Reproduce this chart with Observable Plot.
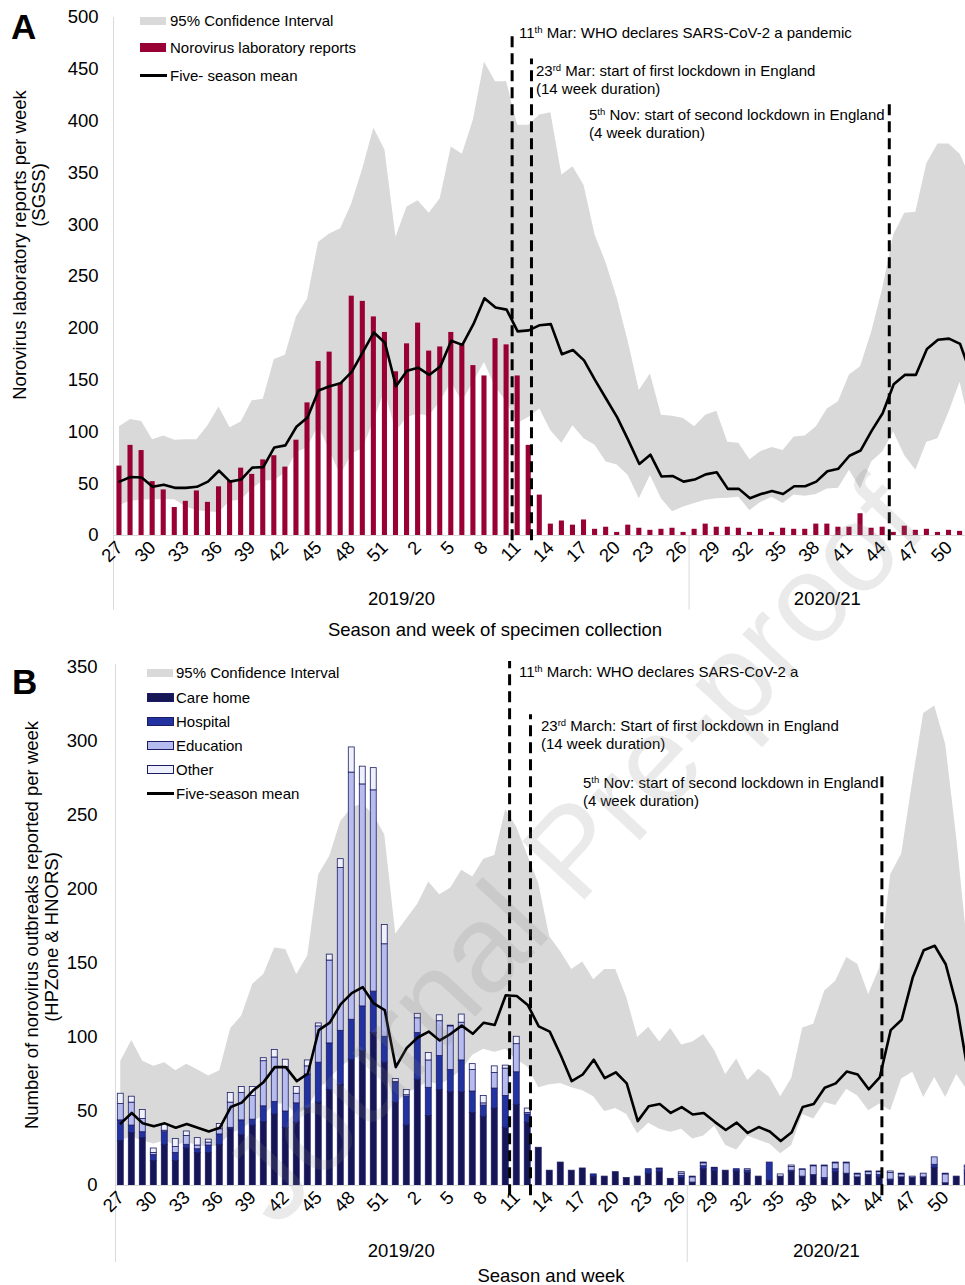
<!DOCTYPE html>
<html><head><meta charset="utf-8">
<script src="https://cdn.jsdelivr.net/npm/d3@7"></script>
<script src="https://cdn.jsdelivr.net/npm/@observablehq/plot@0.6"></script>
<style>
body{margin:0;background:#fff;}
#page{position:relative;width:965px;height:1285px;overflow:hidden;font-family:"Liberation Sans",Arial,sans-serif;color:#000;}
#panelA,#panelB{position:absolute;left:0;}
#panelA{top:0;} #panelB{top:640px;}
.t{position:absolute;white-space:nowrap;line-height:18px;}
.leg{font-size:15px;}
.ann{font-size:15px;line-height:17.5px;}
sup{font-size:9.5px;line-height:0;vertical-align:5px;}
.sw{position:absolute;box-sizing:border-box;}
.ytitle{position:absolute;font-size:18.5px;white-space:nowrap;line-height:20px;transform:translate(-50%,-50%) rotate(-90deg);}
.letter{position:absolute;font-size:35px;font-weight:bold;line-height:35px;}
.xtitle{position:absolute;font-size:18.5px;white-space:nowrap;transform:translate(-50%,-50%);}
#wm{position:absolute;left:572px;top:850px;font-size:124px;color:rgba(128,128,128,0.17);white-space:nowrap;transform:translate(-50%,-50%) rotate(-47deg);pointer-events:none;line-height:1;}
</style></head>
<body>
<div id="page">
  <div id="panelA"></div>
  <div id="panelB"></div>
</div>
<script>
// ---------- categories ----------
const weekLabels = [27,28,29,30,31,32,33,34,35,36,37,38,39,40,41,42,43,44,45,46,47,48,49,50,51,52,
  1,2,3,4,5,6,7,8,9,10,11,12,13,14,15,16,17,18,19,20,21,22,23,24,25,26,
  27,28,29,30,31,32,33,34,35,36,37,38,39,40,41,42,43,44,45,46,47,48,49,50,51,52];
const seasons = ["2019/20", "2020/21"];
const seasonFirstIndex = [0, 52];
const seasonLastIndex = [51, 77];
const yTicksA = [0,50,100,150,200,250,300,350,400,450,500];
const yTicksB = [0,50,100,150,200,250,300,350];

// ---------- panel A: SGSS laboratory reports ----------
const labReports = [67,87,82,52,44,27,33,43,32,47,
  53,65,59,73,77,66,92,128,168,177,
  147,231,226,211,196,158,185,205,178,182,
  196,184,164,154,190,184,154,87,39,11,
  14,10,15,6,8,3,10,7,5,6,
  7,3,6,11,8,8,7,3,6,3,
  7,6,6,11,11,8,8,21,7,8,
  3,9,5,6,3,5,4,5];
const labMean = [52,56.5,56,47,49,46,46,47,52,62.5,
  52,54,65.5,66,85,87,105,114,140,144,
  147,158,177,196,186,144,159,162,155,163,
  188,184,204,229,220,218,197,198,203,204,
  175,179,169,150,132,114,92,69,78,57,
  57.5,52,54,59,61,45,45,36,40,43,
  40,47.5,47.5,52,62,64.5,77,82,101,118,
  146,155,155,180,189,190,185,155];
const labHigh = [105,112,110,92.5,96,92,92.5,92.5,106,124,
  104,109.5,130,131.5,170,174,211,228,283,291,
  296,320,354,393,372,288,317,323,311,325,
  375,368,401,457,438,438,396,396,406,408,
  348,356,338,290,263,229,187,140,156,116,
  115,113,105,116,120,90,89,73,81,85,
  82,95,96,105,122,129,155,163,196,238,
  290,311,312,359,378,378,368,345];
const labLow = [29,33,34,34.5,34.5,34.5,27.5,24,23,22,
  33,34,45,52.5,53,60,80,84.5,106,82,
  58,78.5,84,110,140,100,114,117,115,129,
  148,129,148,167,143,129,108,114,122,101,
  89,106,93.5,87,71,68,58,35.5,58,35.5,
  23,27.5,31,34,35.5,36,37,24,32,37,
  31,39,38,39.5,45,45.5,63,45,71,80.5,
  100,77,63,90,93.5,119,148,101];

// ---------- panel B: outbreaks by setting ----------
const settings = ["Care home", "Hospital", "Education", "Other"];
const careHome = [30,35.5,32,16.5,27.5,16.5,25,22,22,27.5,
  38,34,40.5,43,48,39,42.5,52,56,64.5,
  68,85,91,103,83,56,40.5,71.5,47,64.5,
  63,63,49,46.5,52,39,54.5,42.5,25.5,10,
  15.5,10,11.5,6,6,9,5,6,8,9,
  4.5,5,2,11,10,10,9.5,8.5,6,3,
  6,9,6,7,4,9,8,5.5,7,5.5,
  3,5.5,5,5.5,12,1.5,6,8];
const hospital = [14,5,4,4,8.5,5.5,2.5,2.5,5,7,
  1,10,4,10.5,8.5,11,13,23,27,31.5,
  36.5,27,30,28,17.5,13.5,19.5,31.5,19,23,
  15,21.5,14.5,7.5,13.5,21.5,22,5.5,0,0,
  0,0,0,1.5,0,0,0,0,3,2,
  0,1.5,0,2,1.5,0,1.5,1.5,0,12.5,
  0,1,0,0,1,2,0,0,0,1.5,
  1,0,0,0,2,0,0,2];
const education = [11,15.5,9,1.5,1,4,6,2.5,2,3.5,
  17,18.5,16,30.5,30,30,6.5,5.5,24.5,56,
  110,167,150,136,62.5,0.5,1,10,18.5,23.5,
  29.5,25.5,14.5,1.5,10.5,18.5,19,1,0,0,
  0,0,0,0,0,0,0,0,0,0.5,
  0,1.5,3.5,2,0,0,0,1,0,0,
  0,2.5,4.5,6,8,4,7,2,2,2,
  4.5,2,1,2.5,5,6,0,2.5];
const other = [7,4,6,3,4.5,5.5,3,5,2,3.5,
  6.5,4,6,2,5,5,4.5,4,2,4,
  6,17,12,15,13,2,3.5,3,5,4,
  0.5,5.5,4,5,4.5,2,5,3,0,0,
  0,0,0,0,0,0,0,0,0,0,
  0,1,0.5,0.5,0.5,0,0,0,0,0,
  1.5,1,0.5,0.5,0.5,0.5,0.5,0.5,0.5,0.5,
  1,0.5,0,0,0,0.5,0,1];
const outbreakMean = [42,49,42,40,42,39,41.5,39,36.5,39,
  53,56,64,70,80,80,70.5,75.5,105,110,
  122.5,130,134,123,118.5,80,93,100,104,98,
  102.5,108,102.5,110,108.5,128.5,128,122,107.5,104,
  88,70.5,75,85,72.5,76.5,69,43.5,53.5,55,
  49,53,48,49,43,37.5,42.5,35.5,39.5,36.5,
  30,36,53,55,66,69,77,75,65,73,
  105,112,140.5,159,162,149.5,121.5,78];
const outbreakHigh = [84,98,84,80.5,83,77.5,82,78,74,77.5,
  106,114.5,136,142.5,160.5,159.5,142.5,155,210,222.5,
  246,255,258,250,237,170,180,190,205,196.5,
  201,213,208.5,220.5,223,254,242,223,204,168,
  158,146,151,139,146,146,127,100,107,97,
  106,95,97,102,91,75,85.5,71,78.5,73,
  60,72.5,106.5,109,131.5,138,154,149.5,129,147,
  210,224,273,319,324,298,235,161];
const outbreakLow = [30,33,30,28,30,27,29,27,26,27,
  35,38,43,47,55,55,48,52,65,72,
  80,85,88,82,78,55,62,66,70,68,
  72,78,88,92,90,92,85,80,66,68,
  69,66,64,60,50,52,48,35,42,38,
  36,38,31.5,33.5,40,27,24,33.5,30.5,28,
  21.5,27,48,45,56,54,65,60.5,50.5,55,
  50.5,72,76.5,59.5,73,59.5,75,64];

// ---------- build ----------
const idx = weekLabels.map((_, i) => i);
const tickIdx = idx.filter(i => i % 3 === 0 && i <= 75);
const font = '"Liberation Sans", Arial, sans-serif';
const settingColors = ["#161656", "#2232a0", "#b6bcee", "#eef0fc"];

function seasonRows(xmax) {
  return seasons.map((name, k) => {
    const a = seasonFirstIndex[k] - 0.5, b = Math.min(seasonLastIndex[k] + 0.5, xmax);
    return {name, mid: (a + b) / 2};
  });
}

function commonMarks(cfg) {
  const [xmin, xmax] = cfg.xDomain;
  return [
    Plot.ruleX([xmin], {y1: cfg.sepBottom, y2: cfg.axisTop, stroke: "#d9d9d9", strokeWidth: 1}),
    Plot.ruleX([seasonLastIndex[0] + 0.5], {y1: cfg.sepBottom, y2: 0, stroke: "#d9d9d9", strokeWidth: 1}),
    Plot.ruleY([0], {stroke: "#d9d9d9", strokeWidth: 1}),
    Plot.ruleX(cfg.events, {x: d => d.x, y1: cfg.eventBottom, y2: d => d.top, stroke: "#000",
      strokeWidth: 3, strokeDasharray: "11,6", strokeLinecap: "butt"}),
    Plot.axisY({ticks: cfg.yTicks, tickSize: 0, tickPadding: cfg.yPad, label: null}),
    Plot.axisX({ticks: tickIdx, tickFormat: i => String(weekLabels[i]), tickRotate: -45,
      tickSize: 0, tickPadding: 9, label: null}),
    Plot.text(seasonRows(xmax), {x: "mid", y: cfg.seasonY, text: "name"})
  ];
}

// Panel A
const cfgA = {
  xDomain: [-0.54, 76.49], yTicks: yTicksA, yPad: 15, sepBottom: -72, axisTop: 500,
  eventBottom: -5, seasonY: -61,
  events: [{x: 35.5, top: 487}, {x: 37.25, top: 460}, {x: 69.6, top: 420}]
};
const rowsA = idx.map(i => ({i, lab: labReports[i], mean: labMean[i], lo: labLow[i], hi: labHigh[i]}));
const plotA = Plot.plot({
  width: 965, height: 640, marginTop: 17, marginBottom: 105, marginLeft: 113, marginRight: 0,
  x: {type: "linear", domain: cfgA.xDomain},
  y: {domain: [0, 500]},
  style: {fontFamily: font, fontSize: "18.5px", color: "#000", background: "transparent", overflow: "visible"},
  marks: [
    Plot.areaY(rowsA, {x: "i", y1: "lo", y2: "hi", fill: "#d9d9d9", clip: true}),
    Plot.rect(rowsA, {x1: d => d.i - 0.23, x2: d => d.i + 0.23, y1: 0, y2: "lab", fill: "#990033", clip: true}),
    ...commonMarks(cfgA),
    Plot.line(rowsA, {x: "i", y: "mean", stroke: "#000", strokeWidth: 2.6, clip: true})
  ]
});
document.getElementById("panelA").appendChild(plotA);

// Panel B
const cfgB = {
  xDomain: [-0.48, 76.8], yTicks: yTicksB, yPad: 18, sepBottom: -52, axisTop: 352,
  eventBottom: -7, seasonY: -44,
  events: [{x: 35.35, top: 354}, {x: 37.25, top: 318}, {x: 69.2, top: 278}]
};
const settingValues = [careHome, hospital, education, other];
const stacked = [];
idx.forEach(i => {
  let base = 0;
  settings.forEach((s, k) => {
    const v = settingValues[k][i];
    if (v > 0) stacked.push({i, setting: s, y1: base, y2: base + v});
    base += v;
  });
});
const rowsB = idx.map(i => ({i, mean: outbreakMean[i], lo: outbreakLow[i], hi: outbreakHigh[i]}));
const plotB = Plot.plot({
  width: 965, height: 645, marginTop: 27, marginBottom: 100, marginLeft: 115, marginRight: 0,
  x: {type: "linear", domain: cfgB.xDomain},
  y: {domain: [0, 350]},
  color: {domain: settings, range: settingColors},
  style: {fontFamily: font, fontSize: "18.5px", color: "#000", background: "transparent", overflow: "visible"},
  marks: [
    Plot.areaY(rowsB, {x: "i", y1: "lo", y2: "hi", fill: "#d9d9d9", clip: true}),
    Plot.rect(stacked, {x1: d => d.i - 0.27, x2: d => d.i + 0.27, y1: "y1", y2: "y2", fill: "setting",
      stroke: "#1c1c64", strokeWidth: 0.8, clip: true}),
    ...commonMarks(cfgB),
    Plot.line(rowsB, {x: "i", y: "mean", stroke: "#000", strokeWidth: 2.6, clip: true})
  ]
});
document.getElementById("panelB").appendChild(plotB);

// ---------- text, legends, annotations ----------
const page = document.getElementById("page");
function add(html, cls, style) {
  const d = document.createElement("div");
  d.className = cls; d.innerHTML = html; d.setAttribute("style", style);
  page.appendChild(d); return d;
}
function sw(style) { const d = document.createElement("div"); d.className = "sw"; d.setAttribute("style", style); page.appendChild(d); }

// panel letters
add("A", "letter", "left:11px;top:9px;");
add("B", "letter", "left:12px;top:664px;");

// y titles
add("Norovirus laboratory reports per week", "ytitle", "left:20px;top:245px;");
add("(SGSS)", "ytitle", "left:39px;top:195px;");
add("Number of norovirus outbreaks reported per week", "ytitle", "left:32px;top:925px;");
add("(HPZone &amp; HNORS)", "ytitle", "left:52px;top:937px;");

// x titles
add("Season and week of specimen collection", "xtitle", "left:495px;top:630px;");
add("Season and week", "xtitle", "left:551px;top:1276px;");

// legend A
sw("left:140px;top:17px;width:26px;height:8px;background:#d9d9d9;");
add("95% Confidence Interval", "t leg", "left:170px;top:12px;");
sw("left:140px;top:43px;width:26px;height:9px;background:#990033;");
add("Norovirus laboratory reports", "t leg", "left:170px;top:39px;");
sw("left:140px;top:74px;width:27px;height:3px;background:#000;");
add("Five- season mean", "t leg", "left:170px;top:67px;");

// legend B
sw("left:147px;top:669px;width:26px;height:8px;background:#d9d9d9;");
add("95% Confidence Interval", "t leg", "left:176px;top:664px;");
const legRowsB = [693, 717, 741, 765];
settings.forEach((s, k) => {
  sw(`left:147px;top:${legRowsB[k]}px;width:27px;height:9px;background:${settingColors[k]};border:1px solid #1c1c64;`);
  add(s, "t leg", `left:176px;top:${legRowsB[k] - 4}px;`);
});
sw("left:147px;top:792px;width:27px;height:3px;background:#000;");
add("Five-season mean", "t leg", "left:176px;top:785px;");

// annotations A
add("11<sup>th</sup> Mar: WHO declares SARS-CoV-2 a pandemic", "t ann", "left:519px;top:24px;");
add("23<sup>rd</sup> Mar: start of first lockdown in England<br>(14 week duration)", "t ann", "left:536px;top:62px;");
add("5<sup>th</sup> Nov: start of second lockdown in England<br>(4 week duration)", "t ann", "left:589px;top:106px;");
// annotations B
add("11<sup>th</sup> March: WHO declares SARS-CoV-2 a", "t ann", "left:519px;top:663px;");
add("23<sup>rd</sup> March: Start of first lockdown in England<br>(14 week duration)", "t ann", "left:541px;top:717px;");
add("5<sup>th</sup> Nov: start of second lockdown in England<br>(4 week duration)", "t ann", "left:583px;top:774px;");

// watermark
const wm = document.createElement("div");
wm.id = "wm"; wm.textContent = "Journal Pre-proof";
page.appendChild(wm);
</script>
</body></html>
